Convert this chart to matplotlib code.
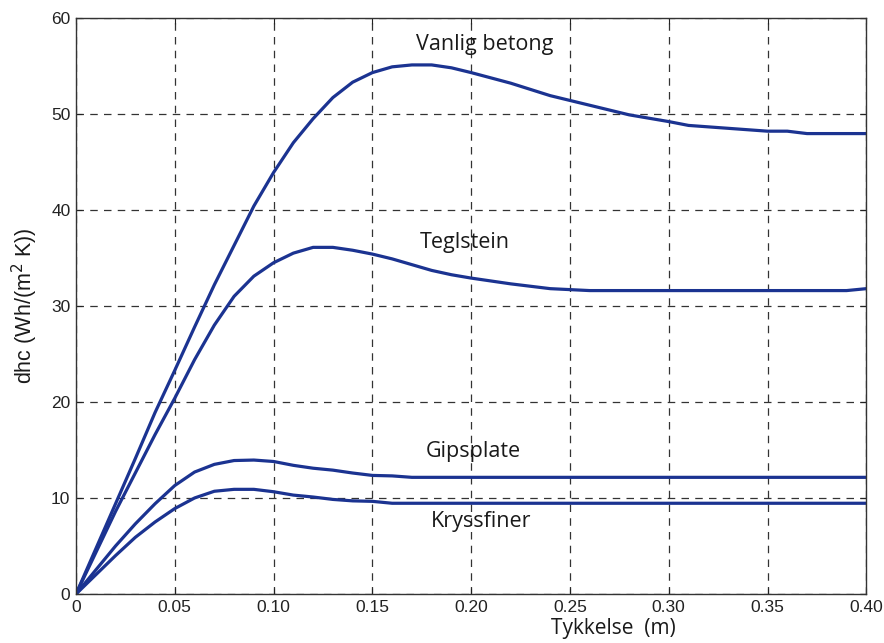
import numpy as np
import matplotlib
matplotlib.use("Agg")
import matplotlib.pyplot as plt

# thickness (m)
thickness = [0, 0.01, 0.02, 0.03, 0.04, 0.05, 0.06, 0.07, 0.08, 0.09, 0.10,
             0.11, 0.12, 0.13, 0.14, 0.15, 0.16, 0.17, 0.18, 0.19, 0.20,
             0.22, 0.24, 0.26, 0.28, 0.30, 0.31, 0.33, 0.35, 0.36, 0.37,
             0.39, 0.40]

vanlig_betong = [0, 4.7, 9.4, 14.1, 18.9, 23.3, 27.8, 32.2, 36.3, 40.4, 43.9,
                 47.0, 49.5, 51.7, 53.3, 54.3, 54.9, 55.1, 55.1, 54.8, 54.3,
                 53.2, 51.9, 50.9, 49.9, 49.2, 48.8, 48.5, 48.2, 48.2, 47.95,
                 47.95, 47.95]

teglstein = [0, 4.3, 8.6, 12.6, 16.6, 20.4, 24.4, 28.0, 31.0, 33.1, 34.5,
             35.5, 36.1, 36.1, 35.8, 35.4, 34.9, 34.3, 33.7, 33.25, 32.9,
             32.3, 31.8, 31.6, 31.6, 31.6, 31.6, 31.6, 31.6, 31.6, 31.6,
             31.6, 31.8]

gipsplate = [0, 2.5, 5.0, 7.3, 9.4, 11.3, 12.7, 13.5, 13.9, 13.95, 13.8,
             13.4, 13.1, 12.9, 12.6, 12.35, 12.3, 12.15, 12.15, 12.15, 12.15,
             12.15, 12.15, 12.15, 12.15, 12.15, 12.15, 12.15, 12.15, 12.15, 12.15,
             12.15, 12.15]

kryssfiner = [0, 2.0, 4.0, 5.9, 7.5, 8.9, 10.0, 10.7, 10.9, 10.9, 10.65,
              10.3, 10.1, 9.85, 9.7, 9.65, 9.45, 9.45, 9.45, 9.45, 9.45,
              9.45, 9.45, 9.45, 9.45, 9.45, 9.45, 9.45, 9.45, 9.45, 9.45,
              9.45, 9.45]

series = [vanlig_betong, teglstein, gipsplate, kryssfiner]
labels = ["Vanlig betong", "Teglstein", "Gipsplate", "Kryssfiner"]
label_pos = [(0.207, 57.2), (0.197, 36.6), (0.201, 14.8), (0.205, 7.5)]

x_ticks = [0, 0.05, 0.10, 0.15, 0.20, 0.25, 0.30, 0.35, 0.40]
x_ticklabels = ["0", "0.05", "0.10", "0.15", "0.20", "0.25", "0.30", "0.35", "0.40"]
y_ticks = [0, 10, 20, 30, 40, 50, 60]

LINE = "#1b3391"

fig = plt.figure(figsize=(8.84, 6.43), dpi=100)
ax = fig.add_axes([0.086, 0.0762, 0.894, 0.896])

for ys in series:
    ax.plot(thickness, ys, color=LINE, lw=2.3, solid_joinstyle="round")

for text, (tx, ty) in zip(labels, label_pos):
    ax.text(tx, ty, text, ha="center", va="center", fontsize=15.5,
            family="Open Sans", color="#1a1a1a")

ax.set_xlim(0, 0.4)
ax.set_ylim(0, 60)
ax.set_xticks(x_ticks)
ax.set_xticklabels(x_ticklabels)
ax.set_yticks(y_ticks)
ax.grid(True, color="#333333", linestyle=(0, (6, 5)), linewidth=0.9)
ax.tick_params(direction="in", top=True, right=True, length=4, width=0.8,
               labelsize=12.5, pad=4, colors="#222222")
for lab in ax.get_xticklabels() + ax.get_yticklabels():
    lab.set_family("Liberation Sans")
for sp in ax.spines.values():
    sp.set_color("#333333")
    sp.set_linewidth(1.0)

ax.set_xlabel("Tykkelse  (m)", fontsize=15, family="Open Sans", color="#1a1a1a")
ax.xaxis.set_label_coords(0.68, -0.042)
ax.set_ylabel("dhc (Wh/(m$^2$ K))", fontsize=15.5, family="Liberation Sans",
              labelpad=8, color="#1a1a1a")

fig.savefig("out.png", dpi=100)
